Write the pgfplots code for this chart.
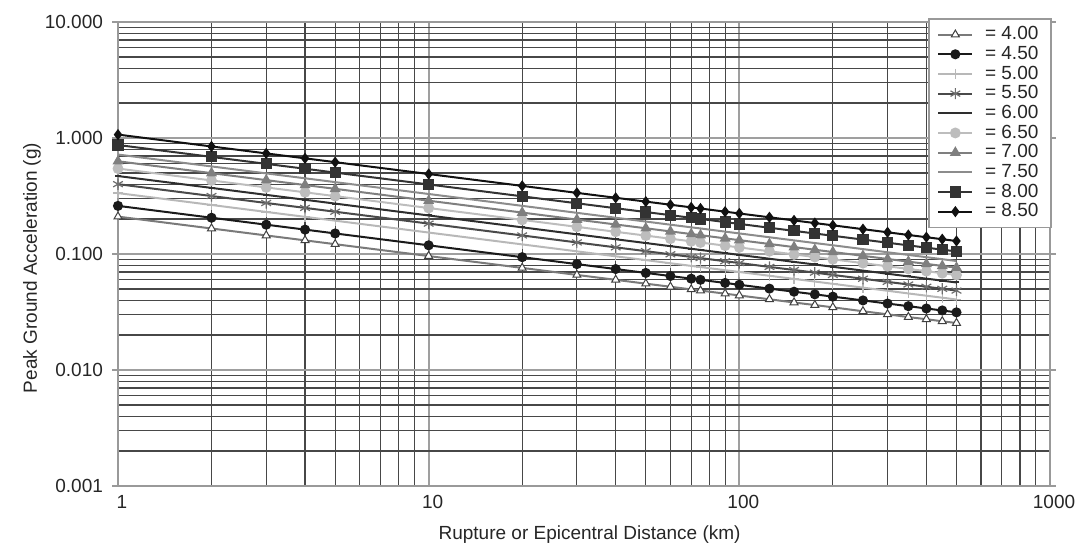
\documentclass[border=0pt]{standalone}
\usepackage{pgfplots}
\usepackage{pgfplotstable}
\pgfplotsset{compat=1.18}
\usepackage{fontspec}
\setmainfont{Liberation Sans}

\definecolor{c400}{HTML}{7A7A7A}
\definecolor{c450}{HTML}{1A1A1A}
\definecolor{c500}{HTML}{B8B8B8}
\definecolor{c550}{HTML}{4A4A4A}
\definecolor{c600}{HTML}{2E2E2E}
\definecolor{c650}{HTML}{BDBDBD}
\definecolor{c700}{HTML}{7F7F7F}
\definecolor{c750}{HTML}{8C8C8C}
\definecolor{c800}{HTML}{333333}
\definecolor{c850}{HTML}{111111}

\pgfplotstableread{
x s400 s450 s500 s550 s600 s650 s700 s750 s800 s850
1 0.210 0.260 0.335 0.400 0.470 0.545 0.630 0.720 0.870 1.070
2 0.1659 0.2054 0.2647 0.3160 0.3713 0.4306 0.4978 0.5689 0.6874 0.8454
3 0.1445 0.1789 0.2305 0.2752 0.3234 0.3750 0.4334 0.4954 0.5986 0.7362
4 0.1311 0.1623 0.2091 0.2497 0.2934 0.3402 0.3932 0.4494 0.5431 0.6679
5 0.1215 0.1504 0.1938 0.2314 0.2719 0.3153 0.3645 0.4165 0.5033 0.6190
10 0.0960 0.1188 0.1531 0.1828 0.2148 0.2491 0.2880 0.3291 0.3977 0.4891
20 0.0759 0.0939 0.1210 0.1445 0.1698 0.1969 0.2276 0.2601 0.3142 0.3865
30 0.0660 0.0818 0.1054 0.1258 0.1478 0.1714 0.1981 0.2264 0.2736 0.3365
40 0.0599 0.0742 0.0955 0.1141 0.1340 0.1554 0.1797 0.2053 0.2481 0.3052
50 0.0555 0.0687 0.0886 0.1058 0.1243 0.1441 0.1666 0.1904 0.2300 0.2829
60 0.0522 0.0646 0.0832 0.0994 0.1168 0.1354 0.1566 0.1789 0.2162 0.2659
70 0.0495 0.0613 0.0790 0.0944 0.1109 0.1286 0.1486 0.1698 0.2052 0.2524
75 0.0484 0.0599 0.0772 0.0922 0.1084 0.1256 0.1453 0.1660 0.2006 0.2467
90 0.0455 0.0563 0.0725 0.0866 0.1018 0.1180 0.1364 0.1559 0.1884 0.2317
100 0.0439 0.0543 0.0700 0.0836 0.0982 0.1139 0.1316 0.1504 0.1817 0.2235
125 0.0407 0.0503 0.0649 0.0774 0.0910 0.1055 0.1220 0.1394 0.1684 0.2072
150 0.0382 0.0473 0.0610 0.0728 0.0855 0.0992 0.1147 0.1310 0.1583 0.1947
175 0.0363 0.0449 0.0579 0.0691 0.0812 0.0941 0.1088 0.1243 0.1502 0.1848
200 0.0347 0.0429 0.0553 0.0660 0.0776 0.0900 0.1040 0.1189 0.1436 0.1767
250 0.0321 0.0398 0.0513 0.0612 0.0719 0.0834 0.0964 0.1102 0.1331 0.1637
300 0.0302 0.0374 0.0482 0.0575 0.0676 0.0784 0.0906 0.1035 0.1251 0.1539
350 0.0286 0.0355 0.0457 0.0546 0.0641 0.0743 0.0859 0.0982 0.1187 0.1459
400 0.0274 0.0339 0.0437 0.0522 0.0613 0.0711 0.0822 0.0939 0.1134 0.1395
450 0.0263 0.0326 0.0420 0.0501 0.0589 0.0683 0.0789 0.0902 0.1090 0.1341
500 0.0254 0.0314 0.0405 0.0484 0.0568 0.0659 0.0762 0.0870 0.1052 0.1294
}\pga

\begin{document}
\begin{tikzpicture}
\begin{axis}[
  scale only axis, width=466pt, height=232pt,
  xmode=log, ymode=log,
  xmin=1, xmax=1000, ymin=0.001, ymax=10,
  xtick={1,10,100,1000}, xticklabels={1,10,100,1000},
  ytick={0.001,0.01,0.1,1,10},
  yticklabels={0.001,0.010,0.100,1.000,10.000},
  grid=both,
  major grid style={gray!75, line width=1pt},
  minor grid style={black!72, line width=0.6pt},
  axis line style={gray!80, line width=1pt},
  tick align=outside, major tick length=3pt, minor tick length=0pt,
  tick style={gray!80, line width=0.8pt},
  xtick style={draw=none},
  tick label style={font=\fontsize{9.5}{11}\selectfont, text=black!85},
  xticklabel style={xshift=2pt, yshift=2pt},
  yticklabel style={xshift=-1pt},
  label style={font=\fontsize{9.5}{11}\selectfont, text=black!85},
  xlabel={Rupture or Epicentral Distance (km)},
  ylabel={Peak Ground Acceleration (g)},
  xlabel style={at={(axis description cs:0.506,0)}, anchor=center, yshift=-24.5pt},
  ylabel style={at={(axis description cs:-0.0923,0.47)}, anchor=center},
  legend style={at={(rel axis cs:1,1)}, anchor=north east, xshift=1pt, yshift=2pt,
    draw=gray!80, line width=0.8pt, fill=white,
    font=\fontsize{9.5}{10.5}\selectfont, text=black!85,
    nodes={inner xsep=2.4pt, inner ysep=0.85pt}, row sep=0pt, inner xsep=4pt, inner ysep=3pt},
  legend image code/.code={%
    \draw[mark repeat=2,mark phase=2,#1] plot coordinates {(0cm,0cm) (0.3cm,0cm) (0.6cm,0cm)};
    \path (0.72cm,0cm);},
  legend cell align=left,
  every axis plot/.append style={line width=1pt},
]
\addplot[color=c400, mark=triangle*, mark size=2.3pt, mark options={fill=white, draw=black!75, line width=0.5pt}] table[x=x,y=s400]{\pga};
\addlegendentry{= 4.00}
\addplot[color=c450, mark=*, mark size=2pt, mark options={fill=c450}] table[x=x,y=s450]{\pga};
\addlegendentry{= 4.50}
\addplot[color=c500, mark=+, mark size=2.5pt, mark options={line width=0.6pt}] table[x=x,y=s500]{\pga};
\addlegendentry{= 5.00}
\addplot[color=c550, mark=asterisk, mark size=2.8pt, mark options={line width=0.6pt, draw=c550!80}] table[x=x,y=s550]{\pga};
\addlegendentry{= 5.50}
\addplot[color=c600, mark=-, mark size=1.5pt] table[x=x,y=s600]{\pga};
\addlegendentry{= 6.00}
\addplot[color=c650, mark=*, mark size=2.2pt, mark options={fill=c650}] table[x=x,y=s650]{\pga};
\addlegendentry{= 6.50}
\addplot[color=c700, mark=triangle*, mark size=2.2pt, mark options={fill=c700}] table[x=x,y=s700]{\pga};
\addlegendentry{= 7.00}
\addplot[color=c750, no markers] table[x=x,y=s750]{\pga};
\addlegendentry{= 7.50}
\addplot[color=c800, mark=square*, mark size=2.3pt, mark options={fill=c800}] table[x=x,y=s800]{\pga};
\addlegendentry{= 8.00}
\addplot[color=c850, mark=diamond*, mark size=2pt, mark options={fill=c850}] table[x=x,y=s850]{\pga};
\addlegendentry{= 8.50}
\end{axis}
\pgfresetboundingbox
\path[use as bounding box] (-59pt,-31.5pt) rectangle (481pt,243pt);
\end{tikzpicture}
\end{document}
